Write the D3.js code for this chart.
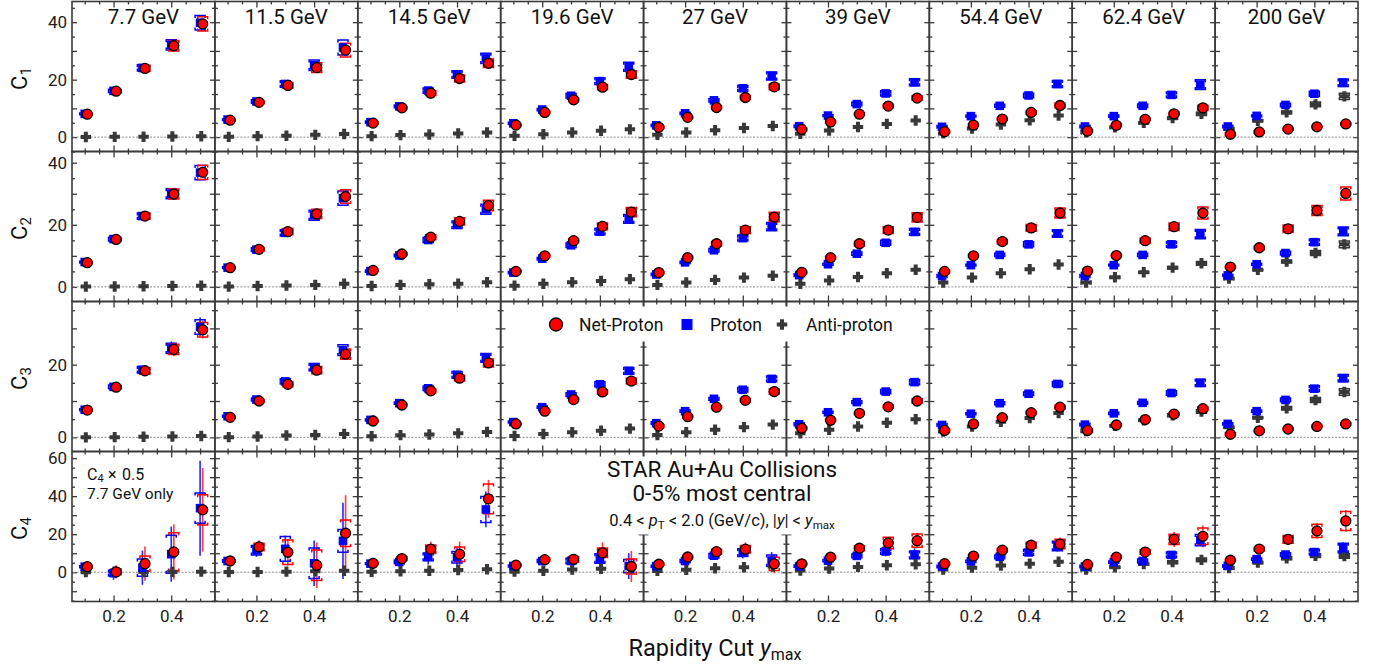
<!DOCTYPE html>
<html><head><meta charset="utf-8">
<script src="https://cdn.jsdelivr.net/npm/d3@7"></script>
<style>body{margin:0;background:#fff;} svg{display:block;font-family:Roboto,"Noto Sans",sans-serif;}</style>
</head><body><svg id="c" width="1384" height="666"></svg>
<script>
// ---------------- DATA ----------------
const ymaxCuts = [0.1, 0.2, 0.3, 0.4, 0.5];
const energies = ["7.7 GeV","11.5 GeV","14.5 GeV","19.6 GeV","27 GeV","39 GeV","54.4 GeV","62.4 GeV","200 GeV"];
const orderLabels = ["1","2","3","4"];
const xTickLabels = [0.2, 0.4];
const yTickLabels = [[0,20,40],[0,20,40],[0,20],[0,20,40,60]];

// C1
const netProtonC1 = [[8.0,16.0,23.9,31.8,39.4],[5.9,12.1,18.0,24.2,30.3],[4.9,10.2,15.3,20.4,25.7],[4.2,8.6,13.0,17.4,21.8],[3.4,6.9,10.3,13.8,17.5],[2.7,5.3,8.0,10.8,13.6],[1.9,4.2,6.3,8.6,11.0],[2.1,4.1,6.2,8.1,10.2],[1.0,1.8,2.8,3.6,4.6]];
const protonC1 = [[8.1,16.1,24.1,32.1,39.8],[6.1,12.4,18.5,25.0,31.2],[5.2,10.7,16.2,21.8,27.4],[4.8,9.6,14.4,19.5,24.5],[4.1,8.3,12.8,17.0,21.3],[3.8,7.5,11.5,15.2,19.1],[3.6,7.3,10.9,14.5,18.5],[3.7,7.3,10.9,14.7,18.3],[3.7,7.4,11.2,15.1,18.9]];
const antiProtonC1 = [[0.05,0.1,0.15,0.2,0.3],[0.1,0.35,0.5,0.8,1.1],[0.35,0.7,0.9,1.3,1.6],[0.45,1.0,1.6,2.2,2.7],[0.8,1.6,2.4,3.2,3.9],[1.2,2.3,3.5,4.6,5.8],[1.3,3.0,4.4,5.9,7.5],[1.7,3.4,5.0,6.6,8.1],[2.9,5.7,8.6,11.4,14.2]];
const netSysC1 = [[0.3,0.6,1.1,1.8,2.5],[0.3,0.5,1.0,1.7,2.4],[0.2,0.4,0.8,1.2,1.5],[0.2,0.4,0.6,0.9,1.3],[0.2,0.3,0.5,0.7,1.0],[0.1,0.3,0.4,0.6,0.8],[0.1,0.2,0.4,0.6,0.8],[0.1,0.2,0.4,0.6,0.9],[0.1,0.2,0.2,0.3,0.4]];
const protonSysC1 = [[0.3,0.6,1.1,1.8,2.5],[0.3,0.6,1.1,1.8,2.6],[0.2,0.5,0.9,1.3,1.8],[0.2,0.4,0.8,1.2,1.6],[0.2,0.4,0.6,1.0,1.4],[0.2,0.3,0.6,0.9,1.2],[0.2,0.3,0.5,0.8,1.2],[0.2,0.4,0.6,1.0,1.7],[0.2,0.3,0.6,0.9,1.3]];
const antiSysC1 = [[0,0,0,0,0],[0,0,0,0,0],[0,0,0,0,0],[0,0,0,0,0],[0,0,0,0,0],[0,0,0,0,0],[0,0,0,0,0],[0.1,0.2,0.3,0.4,0.6],[0.2,0.3,0.5,0.8,1.1]];
// C2
const netProtonC2 = [[7.8,15.3,22.8,29.9,36.9],[6.2,12.1,17.8,23.5,29.1],[5.3,10.6,16.0,21.1,26.2],[5.0,10.0,14.9,19.5,24.1],[4.6,9.4,13.9,18.3,22.5],[4.7,9.4,13.9,18.3,22.4],[5.0,10.0,14.6,19.0,23.8],[5.1,10.1,14.9,19.4,23.8],[6.4,12.6,18.7,24.6,30.1]];
const protonC2 = [[8.0,15.4,22.8,30.0,36.8],[6.2,12.0,17.4,23.1,28.6],[5.1,10.1,15.1,20.0,25.0],[4.6,9.1,13.4,17.8,21.9],[4.0,7.9,11.8,15.7,19.4],[3.8,7.3,10.7,14.2,17.7],[3.5,7.0,10.3,13.7,17.2],[3.5,7.0,10.3,13.7,17.0],[3.7,7.3,10.9,14.4,17.9]];
const antiProtonC2 = [[0.1,0.15,0.2,0.3,0.35],[0.1,0.3,0.45,0.65,1.0],[0.3,0.65,0.85,1.05,1.5],[0.4,1.0,1.5,1.9,2.5],[0.65,1.4,2.25,3.0,3.6],[1.0,2.1,3.2,4.4,5.5],[1.4,3.0,4.4,5.7,7.2],[1.4,3.1,4.7,6.2,7.6],[2.7,5.5,8.2,10.9,13.7]];
const netSysC2 = [[0.3,0.6,1.0,1.6,2.3],[0.3,0.6,1.0,1.5,2.2],[0.2,0.4,0.8,1.2,1.7],[0.2,0.4,0.7,1.1,1.5],[0.2,0.4,0.7,1.1,1.5],[0.2,0.4,0.7,1.1,1.5],[0.2,0.4,0.7,1.1,1.6],[0.2,0.4,0.8,1.2,1.9],[0.3,0.6,1.2,1.6,2.1]];
const protonSysC2 = [[0.3,0.6,1.0,1.6,2.3],[0.3,0.6,1.0,1.6,2.3],[0.2,0.4,0.8,1.2,1.6],[0.2,0.4,0.7,1.0,1.4],[0.2,0.4,0.6,0.9,1.3],[0.1,0.3,0.5,0.8,1.1],[0.1,0.3,0.5,0.8,1.2],[0.1,0.3,0.5,0.9,1.5],[0.2,0.3,0.6,1.0,1.4]];
const antiSysC2 = [[0,0,0,0,0],[0,0,0,0,0],[0,0,0,0,0],[0,0,0,0,0],[0,0,0,0,0],[0,0,0,0,0],[0,0,0,0,0],[0.1,0.2,0.3,0.4,0.6],[0.2,0.3,0.5,0.8,1.1]];
// C3
const netProtonC3 = [[7.5,13.8,18.3,24.2,29.6],[5.5,10.0,14.6,18.5,22.9],[4.5,8.9,12.8,16.3,20.5],[3.7,7.2,10.4,12.5,15.5],[3.1,5.7,8.3,10.2,12.6],[2.5,4.7,6.6,8.4,10.0],[1.9,3.7,5.4,6.8,8.3],[1.9,3.4,4.9,6.4,7.9],[0.85,1.8,2.3,3.0,3.7]];
const protonC3 = [[7.6,13.9,18.6,24.5,30.4],[5.8,10.4,15.4,19.3,24.0],[4.8,9.4,13.5,17.2,21.9],[4.2,8.3,11.8,14.6,18.3],[3.9,7.2,10.6,13.1,16.1],[3.6,6.9,9.7,12.6,15.2],[3.4,6.5,9.4,12.0,14.7],[3.5,6.6,9.5,12.2,15.0],[3.7,7.2,10.3,13.4,16.3]];
const antiProtonC3 = [[0.0,0.05,0.15,0.25,0.35],[0.05,0.25,0.5,0.65,0.95],[0.3,0.6,0.8,1.1,1.5],[0.35,0.9,1.4,1.8,2.4],[0.65,1.4,2.1,2.8,3.5],[1.1,2.1,3.0,4.0,5.0],[1.6,3.0,4.3,5.3,6.7],[1.7,3.2,4.7,6.1,7.1],[2.8,5.4,8.0,10.3,12.5]];
const netSysC3 = [[0.3,0.5,0.9,1.4,2.0],[0.2,0.4,0.7,1.0,1.4],[0.2,0.3,0.5,0.8,1.1],[0.2,0.3,0.4,0.6,0.8],[0.1,0.2,0.4,0.5,0.7],[0.1,0.2,0.3,0.4,0.6],[0.1,0.2,0.3,0.4,0.5],[0.1,0.2,0.3,0.4,0.5],[0.1,0.1,0.2,0.3,0.3]];
const protonSysC3 = [[0.3,0.5,0.9,1.4,2.0],[0.2,0.4,0.7,1.0,1.5],[0.2,0.3,0.6,0.9,1.2],[0.2,0.3,0.5,0.7,0.9],[0.1,0.3,0.4,0.6,0.8],[0.1,0.3,0.4,0.6,0.7],[0.1,0.2,0.4,0.5,0.7],[0.1,0.3,0.4,0.6,1.0],[0.2,0.3,0.5,0.8,1.0]];
const antiSysC3 = [[0,0,0,0,0],[0,0,0,0,0],[0,0,0,0,0],[0,0,0,0,0],[0,0,0,0,0],[0,0,0,0,0],[0,0,0,0,0],[0.1,0.2,0.3,0.4,0.5],[0.2,0.3,0.5,0.7,0.9]];
const netStatC3 = [[0.1,0.3,0.6,1.9,2.4],[0.1,0.2,0.4,0.8,1.2],[0.1,0.2,0.3,0.5,0.8],[0.1,0.1,0.2,0.4,0.6],[0.1,0.1,0.2,0.3,0.5],[0.1,0.1,0.2,0.3,0.4],[0.1,0.1,0.2,0.3,0.4],[0.1,0.1,0.2,0.3,0.4],[0.1,0.1,0.1,0.2,0.3]];
const protonStatC3 = [[0.1,0.3,0.6,1.9,2.6],[0.1,0.2,0.4,0.8,1.2],[0.1,0.2,0.3,0.5,0.8],[0.1,0.1,0.2,0.4,0.6],[0.1,0.1,0.2,0.3,0.5],[0.1,0.1,0.2,0.3,0.4],[0.1,0.1,0.2,0.3,0.4],[0.1,0.1,0.2,0.3,0.4],[0.1,0.1,0.1,0.2,0.3]];
// C4 (7.7 GeV scaled by 0.5)
const netProtonC4 = [[2.9,0.2,4.5,10.7,32.8],[5.9,13.3,10.5,3.7,20.5],[4.7,7.2,12.1,9.5,38.6],[3.7,6.6,6.8,10.2,3.0],[4.2,8.0,10.8,12.1,4.4],[4.4,7.9,12.6,15.4,16.6],[4.5,8.5,11.6,14.2,14.8],[4.1,7.9,10.6,17.3,18.9],[6.3,12.2,17.3,21.7,27.0]];
const protonC4 = [[2.9,-0.5,2.4,9.5,33.7],[5.9,11.6,12.3,4.7,16.5],[4.5,5.4,8.1,7.9,33.0],[3.3,5.9,5.9,7.2,3.2],[3.2,5.9,8.7,10.3,6.1],[3.2,6.1,8.6,10.9,9.1],[3.0,5.7,8.1,10.4,13.8],[3.0,5.3,5.9,9.1,16.9],[3.3,6.9,9.3,10.6,12.8]];
const antiProtonC4 = [[0.05,0.1,0.15,0.2,0.3],[0.1,0.15,0.3,0.5,0.8],[0.2,0.5,0.8,1.2,1.6],[0.3,0.8,1.4,1.8,2.2],[0.7,1.3,2.1,2.6,3.0],[0.9,1.9,2.8,3.7,4.2],[1.4,2.4,3.5,4.5,5.5],[1.4,2.6,4.3,5.3,6.5],[2.2,5.1,7.3,8.7,8.5]];
const netStatC4 = [[1.0,3.5,9.0,14.5,22.0],[1.0,3.5,7.0,12.0,20.0],[0.8,1.5,4.0,6.6,10.0],[0.6,1.2,2.5,5.5,8.2],[0.5,1.2,2.0,3.5,5.0],[0.5,1.0,1.8,3.0,4.0],[0.5,1.0,1.5,2.5,3.5],[0.5,1.0,1.8,4.0,5.7],[0.5,1.0,2.0,4.0,5.7]];
const protonStatC4 = [[1.0,3.5,9.0,14.5,25.0],[1.0,3.5,7.0,12.0,20.0],[0.8,1.5,4.0,5.0,9.4],[0.6,1.2,2.5,4.5,6.8],[0.5,1.0,2.0,3.0,4.5],[0.5,1.0,1.5,2.5,3.5],[0.5,0.8,1.2,2.0,3.0],[0.5,0.8,1.2,2.0,3.0],[0.5,0.8,1.2,2.0,3.0]];
const netSysC4 = [[0.5,1.5,4.0,10.0,8.0],[0.6,2.0,6.5,8.0,7.0],[0.5,1.0,2.2,3.8,7.8],[0.4,0.8,1.5,2.5,3.9],[0.4,0.8,1.3,2.0,3.5],[0.4,0.8,1.3,3.0,3.5],[0.3,0.6,1.0,1.5,2.5],[0.3,0.6,1.2,2.7,4.3],[0.4,1.0,2.0,3.5,5.0]];
const protonSysC4 = [[0.5,1.5,4.5,10.0,8.0],[0.6,2.5,6.5,8.0,6.0],[0.5,1.0,2.0,3.0,6.8],[0.4,0.8,1.5,2.5,3.5],[0.4,0.8,1.2,2.0,3.0],[0.3,0.6,1.0,1.5,2.0],[0.3,0.6,1.0,1.5,2.5],[0.3,0.6,1.0,1.5,3.0],[0.3,0.6,1.0,1.5,2.5]];
const antiSysC4 = [[0,0,0,0,0],[0,0,0,0,0],[0,0,0,0,0],[0,0,0,0,0],[0,0,0,0,0],[0,0,0,0,0],[0,0,0,0,0],[0.2,0.4,0.6,0.8,1.0],[0.3,0.6,0.8,1.0,1.2]];

// ---------------- LAYOUT ----------------
const rows = [
  {net:netProtonC1, pro:protonC1, anti:antiProtonC1, netSys:netSysC1, proSys:protonSysC1, antiSys:antiSysC1, netStat:null, proStat:null},
  {net:netProtonC2, pro:protonC2, anti:antiProtonC2, netSys:netSysC2, proSys:protonSysC2, antiSys:antiSysC2, netStat:null, proStat:null},
  {net:netProtonC3, pro:protonC3, anti:antiProtonC3, netSys:netSysC3, proSys:protonSysC3, antiSys:antiSysC3, netStat:netStatC3, proStat:protonStatC3},
  {net:netProtonC4, pro:protonC4, anti:antiProtonC4, netSys:netSysC4, proSys:protonSysC4, antiSys:antiSysC4, netStat:netStatC4, proStat:protonStatC4}
];
const L = 72, R = 1358, T = 1.5, rowH = 150;
const colW = (R - L) / 9;
const xDomain = [0.056, 0.5513];
const yDomains = [[-5.0, 47.2], [-4.7, 43.6], [-3.9, 37.4], [-15.4, 63.5]];
const RED = "#ff0000", BLUE = "#0000ff", GRAY = "#383838", FRAME = "#3a3a3a";
const svg = d3.select("#c");

const gFrames = svg.append("g");
const gBoxes = svg.append("g");
const gData = svg.append("g");
const gText = svg.append("g");

function styleAxis(g) {
  g.select(".domain").remove();
  g.selectAll(".tick line").attr("stroke", FRAME).attr("stroke-width", 1.3);
}

const panels = [];
for (let r = 0; r < 4; r++) {
  for (let c = 0; c < 9; c++) {
    const x0 = L + c * colW, y0 = T + r * rowH;
    const x = d3.scaleLinear().domain(xDomain).range([x0, x0 + colW]);
    const y = d3.scaleLinear().domain(yDomains[r]).range([y0 + rowH, y0]);
    panels.push({r, c, x, y, x0, y0});
    const dom = yDomains[r];
    const yMaj = d3.range(Math.ceil(dom[0] / 10) * 10, dom[1], 10);
    const yMin = d3.range(Math.ceil(dom[0] / 5) * 5, dom[1], 5).filter(v => v % 10 !== 0);
    const xMaj = [0.2, 0.4];
    const xMin = [0.1, 0.15, 0.25, 0.3, 0.35, 0.45, 0.5];
    const g = gFrames.append("g");
    [[yMaj, 5], [yMin, 3]].forEach(([vals, len]) => {
      g.append("g").attr("transform", `translate(${x0},0)`).call(d3.axisLeft(y).tickValues(vals).tickSize(-len).tickFormat("")).call(styleAxis);
      g.append("g").attr("transform", `translate(${x0 + colW},0)`).call(d3.axisRight(y).tickValues(vals).tickSize(-len).tickFormat("")).call(styleAxis);
    });
    [[xMaj, 6], [xMin, 3]].forEach(([vals, len]) => {
      g.append("g").attr("transform", `translate(0,${y0})`).call(d3.axisTop(x).tickValues(vals).tickSize(-len).tickFormat("")).call(styleAxis);
      g.append("g").attr("transform", `translate(0,${y0 + rowH})`).call(d3.axisBottom(x).tickValues(vals).tickSize(-len).tickFormat("")).call(styleAxis);
    });
    g.append("rect").attr("x", x0).attr("y", y0).attr("width", colW).attr("height", rowH)
      .attr("fill", "none").attr("stroke", FRAME).attr("stroke-width", 1.6);
    gData.append("line").attr("x1", x0 + 1).attr("x2", x0 + colW - 1).attr("y1", y(0)).attr("y2", y(0))
      .attr("stroke", "#8a8a8a").attr("stroke-width", 1).attr("stroke-dasharray", "2,1.5");
    if (c === 0) {
      const ax = gText.append("g").attr("transform", `translate(${x0},0)`)
        .call(d3.axisLeft(y).tickValues(yTickLabels[r]).tickSize(0).tickPadding(5).tickFormat(d3.format("d")));
      ax.select(".domain").remove();
      ax.selectAll("text").attr("font-size", 17).attr("font-family", "Roboto").attr("fill", "#222");
    }
    if (r === 3) {
      const ax = gText.append("g").attr("transform", `translate(0,${y0 + rowH})`)
        .call(d3.axisBottom(x).tickValues(xTickLabels).tickSize(0).tickPadding(8).tickFormat(d3.format(".1f")));
      ax.select(".domain").remove();
      ax.selectAll("text").attr("font-size", 17).attr("font-family", "Roboto").attr("fill", "#222");
    }
  }
}

const colX = i => L + i * colW;
gBoxes.append("rect").attr("x", colX(3) + 5).attr("y", T + 2 * rowH + 5).attr("width", colW * 3 - 10).attr("height", 35).attr("fill", "#fff");
gBoxes.append("rect").attr("x", colX(3) + 5).attr("y", T + 3 * rowH + 5).attr("width", colW * 3 - 10).attr("height", 78).attr("fill", "#fff");

// ---------------- DATA MARKS ----------------
const offNet = 0.009, offAnti = 0.004, offPro = 0.0;
function sysBracket(g, px, pyTop, pyBot, color) {
  const hw = 5, tk = 2.5;
  g.append("path").attr("d",
    `M${px - hw},${pyTop + tk}V${pyTop}H${px + hw}V${pyTop + tk}M${px - hw},${pyBot - tk}V${pyBot}H${px + hw}V${pyBot - tk}`)
    .attr("fill", "none").attr("stroke", color).attr("stroke-width", 1.5);
}
const plusPath = (cx, cy) => {
  const a = 5.2, b = 2.0;
  return `M${cx - b},${cy - a}H${cx + b}V${cy - b}H${cx + a}V${cy + b}H${cx + b}V${cy + a}H${cx - b}V${cy + b}H${cx - a}V${cy - b}H${cx - b}Z`;
};

panels.forEach(p => {
  const d = rows[p.r];
  const net = d.net[p.c], pro = d.pro[p.c], anti = d.anti[p.c];
  const g = gData.append("g");
  if (d.proStat) ymaxCuts.forEach((xv, i) => {
    const e = d.proStat[p.c][i];
    g.append("line").attr("x1", p.x(xv + offPro)).attr("x2", p.x(xv + offPro))
      .attr("y1", p.y(pro[i] - e)).attr("y2", p.y(pro[i] + e)).attr("stroke", "#1a2cff").attr("stroke-width", 1.6);
  });
  if (d.netStat) ymaxCuts.forEach((xv, i) => {
    const e = d.netStat[p.c][i];
    g.append("line").attr("x1", p.x(xv + offNet)).attr("x2", p.x(xv + offNet))
      .attr("y1", p.y(net[i] - e)).attr("y2", p.y(net[i] + e)).attr("stroke", "#ff3a3a").attr("stroke-width", 1.6);
  });
  ymaxCuts.forEach((xv, i) => {
    const ea = d.antiSys[p.c][i];
    if (ea > 0) sysBracket(g, p.x(xv + offAnti), p.y(anti[i] + ea), p.y(anti[i] - ea), GRAY);
    sysBracket(g, p.x(xv + offPro), p.y(pro[i] + d.proSys[p.c][i]), p.y(pro[i] - d.proSys[p.c][i]), BLUE);
    sysBracket(g, p.x(xv + offNet), p.y(net[i] + d.netSys[p.c][i]), p.y(net[i] - d.netSys[p.c][i]), RED);
  });
  g.selectAll(".anti").data(anti).join("path").attr("d", (v, i) => plusPath(p.x(ymaxCuts[i] + offAnti), p.y(v))).attr("fill", GRAY);
  g.selectAll(".pro").data(pro).join("rect")
    .attr("x", (v, i) => p.x(ymaxCuts[i] + offPro) - 4.3).attr("y", v => p.y(v) - 4.3)
    .attr("width", 8.6).attr("height", 8.6).attr("fill", BLUE);
  g.selectAll(".net").data(net).join("circle")
    .attr("cx", (v, i) => p.x(ymaxCuts[i] + offNet)).attr("cy", v => p.y(v)).attr("r", 5)
    .attr("fill", RED).attr("stroke", "#000").attr("stroke-width", 1.3);
});

// ---------------- TEXT ----------------
energies.forEach((e, c) => {
  gText.append("text").attr("x", L + (c + 0.5) * colW).attr("y", 24).attr("text-anchor", "middle")
    .attr("font-size", 20.5).attr("fill", "#111").text(e);
});
orderLabels.forEach((o, r) => {
  const t = gText.append("text").attr("transform", `translate(27,${T + r * rowH + rowH / 2 + 2}) rotate(-90)`)
    .attr("text-anchor", "middle").attr("font-size", 22).attr("fill", "#111");
  t.append("tspan").text("C");
  t.append("tspan").attr("font-size", 15).attr("dy", 4).text(o);
});
{
  const t = gText.append("text").attr("x", (L + R) / 2).attr("y", 656).attr("text-anchor", "middle").attr("font-size", 23.5).attr("fill", "#111");
  t.append("tspan").text("Rapidity Cut ");
  t.append("tspan").attr("font-style", "italic").text("y");
  t.append("tspan").attr("font-size", 16).attr("dy", 4).text("max");
}
{
  const t = gText.append("text").attr("x", 87).attr("y", 479.5).attr("font-size", 16).attr("fill", "#111");
  t.append("tspan").text("C");
  t.append("tspan").attr("font-size", 11).attr("dy", 2.5).text("4");
  t.append("tspan").attr("x", 108).attr("dy", -2.5).text("×");
  t.append("tspan").attr("x", 122).text("0.5");
  gText.append("text").attr("x", 87).attr("y", 499).attr("font-size", 15.5).attr("fill", "#111").text("7.7 GeV only");
}
{
  const cx = 722;
  gText.append("text").attr("x", cx).attr("y", 477).attr("text-anchor", "middle").attr("font-size", 22.5).attr("fill", "#111").text("STAR Au+Au Collisions");
  gText.append("text").attr("x", cx).attr("y", 501).attr("text-anchor", "middle").attr("font-size", 22.5).attr("fill", "#111").text("0-5% most central");
  const t = gText.append("text").attr("x", cx).attr("y", 526).attr("text-anchor", "middle").attr("font-size", 16.5).attr("fill", "#111");
  t.append("tspan").text("0.4 < ");
  t.append("tspan").attr("font-style", "italic").text("p");
  t.append("tspan").attr("font-size", 11.5).attr("dy", 3).text("T");
  t.append("tspan").attr("dy", -3).text(" < 2.0 (GeV/c), |");
  t.append("tspan").attr("font-style", "italic").text("y");
  t.append("tspan").text("| < ");
  t.append("tspan").attr("font-style", "italic").text("y");
  t.append("tspan").attr("font-size", 11.5).attr("dy", 3).text("max");
}
{
  const ly = 324.5;
  const lg = gText.append("g");
  lg.append("circle").attr("cx", 556).attr("cy", ly).attr("r", 6.5).attr("fill", RED).attr("stroke", "#000").attr("stroke-width", 1.3);
  lg.append("text").attr("x", 579).attr("y", ly + 6).attr("font-size", 17.5).attr("fill", "#111").text("Net-Proton");
  lg.append("rect").attr("x", 681.5).attr("y", ly - 5.5).attr("width", 11).attr("height", 11).attr("fill", BLUE);
  lg.append("text").attr("x", 710).attr("y", ly + 6).attr("font-size", 17.5).attr("fill", "#111").text("Proton");
  lg.append("path").attr("d", plusPath(782, ly)).attr("fill", GRAY);
  lg.append("text").attr("x", 806).attr("y", ly + 6).attr("font-size", 17.5).attr("fill", "#111").text("Anti-proton");
}
</script></body></html>
